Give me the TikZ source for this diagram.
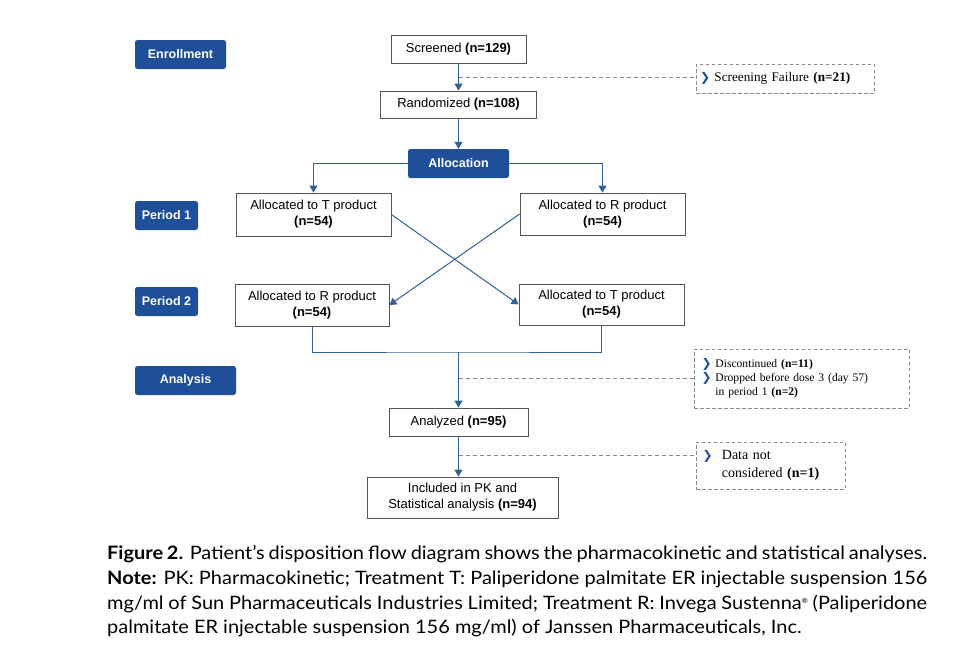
\documentclass[tikz,border=0pt]{standalone}
\usepackage{fontspec}
\setmainfont{Liberation Sans}
\newfontfamily\serifside{Liberation Serif}
\newfontfamily\symfont{DejaVu Sans}
\newfontfamily\capfont[FakeStretch=1.08]{Lato}
\usetikzlibrary{arrows.meta}
\definecolor{navy}{HTML}{1F4F98}
\definecolor{lineblue}{HTML}{34609A}
\definecolor{boxgray}{HTML}{555555}
\definecolor{dashgray}{HTML}{8A8A8A}
\newcommand{\chev}{{\symfont\bfseries\color{navy}\fontsize{12}{12}\selectfont\raisebox{-0.3pt}{❯}}}
\newcommand{\capline}[1]{\makebox[820pt][s]{#1}}
\tikzset{
  label box/.style={draw=none, fill=navy, rounded corners=2.5pt, text=white, font=\fontsize{12.5}{14}\selectfont\bfseries, inner sep=0pt, align=center},
  flowbox/.style={draw=boxgray, line width=0.8pt, fill=white, font=\fontsize{13}{16}\selectfont, inner sep=0pt, align=center},
  sidebox/.style={draw=dashgray, dashed, dash pattern=on 3.5pt off 2.5pt, line width=0.7pt, inner sep=0pt, font=\serifside\fontsize{12.5}{14}\selectfont},
  conn/.style={draw=lineblue, line width=1pt},
  arr/.style={conn, -{Triangle[width=8pt,length=7pt]}},
  dashconn/.style={draw=dashgray, line width=0.8pt, dash pattern=on 4pt off 3pt},
  captext/.style={anchor=base west, inner sep=0pt, font=\capfont\fontsize{18.5}{22}\selectfont, text=black}
}
\begin{document}
\begin{tikzpicture}[x=1pt,y=-1pt]
\useasboundingbox (0,0) rectangle (976,656);
\fill[white] (0,0) rectangle (976,656);
% stage labels
\node[label box, minimum width=91pt, minimum height=29pt] (enroll) at (180.5,54.5) {Enrollment};
\node[label box, minimum width=63pt, minimum height=29pt] (p1) at (166.5,215.5) {Period 1};
\node[label box, minimum width=63pt, minimum height=29pt] (p2) at (166.5,301.5) {Period 2};
\node[label box, minimum width=101pt, minimum height=29pt] (analysis) at (185.5,380.5) {Analysis};
% flow boxes
\node[flowbox, minimum width=135pt, minimum height=28pt] (screened) at (458.5,49) {Screened \textbf{(n=129)}};
\node[flowbox, minimum width=156pt, minimum height=27pt] (rand) at (458.5,104.5) {Randomized \textbf{(n=108)}};
\node[label box, minimum width=101pt, minimum height=29pt] (alloc) at (458.5,163.5) {Allocation};
\node[flowbox, minimum width=155pt, minimum height=43pt] (tA) at (313.5,214.5) {Allocated to T product\\\textbf{(n=54)}};
\node[flowbox, minimum width=165pt, minimum height=42pt] (rA) at (602.5,214) {Allocated to R product\\\textbf{(n=54)}};
\node[flowbox, minimum width=154pt, minimum height=42pt] (tB) at (312,305) {Allocated to R product\\\textbf{(n=54)}};
\node[flowbox, minimum width=165pt, minimum height=41pt] (rB) at (601.5,304.5) {Allocated to T product\\\textbf{(n=54)}};
\node[flowbox, minimum width=139pt, minimum height=28pt] (analyzed) at (458.5,422) {Analyzed \textbf{(n=95)}};
\node[flowbox, minimum width=191pt, minimum height=41pt] (incl) at (462.5,497.5) {Included in PK and\\Statistical analysis \textbf{(n=94)}};
% side boxes
\node[sidebox, minimum width=178pt, minimum height=29pt, text width=170pt, align=left, font=\serifside\fontsize{13.2}{15}\selectfont] (fail) at (785,78.5) {\chev\ Screening Failure \textbf{(n=21)}};
\node[sidebox, minimum width=215pt, minimum height=59pt, text width=200pt, align=left, font=\serifside\fontsize{11.6}{14}\selectfont] (disc) at (801.5,378.5) {\chev\ Discontinued \textbf{(n=11)}\\\chev\ Dropped before dose 3 (day 57)\\\phantom{\chev\ }in period 1 \textbf{(n=2)}};
\node[sidebox, minimum width=149pt, minimum height=47pt, text width=136pt, align=left, font=\serifside\fontsize{14}{18}\selectfont] (data) at (770.5,465.5) {\chev\ \ Data not\\\phantom{\chev\ \ }considered \textbf{(n=1)}};
% connectors
\coordinate (j1) at (458.5,77);
\coordinate (m1) at (458.5,352);
\coordinate (j2) at (458.5,378);
\coordinate (j3) at (458.5,455);
\draw[arr] (screened.south) -- (rand.north);
\draw[dashconn] (j1) -- (j1 -| fail.west);
\draw[arr] (rand.south) -- (alloc.north);
\draw[arr] (alloc.west) -| (tA.north);
\draw[arr] (alloc.east) -| (rA.north);
\draw[arr] (tA.east) -- (rB.west);
\draw[arr] (rA.west) -- (tB.east);
\draw[conn] (tB.south) |- (m1) -| (rB.south);
\draw[arr] (m1) -- (analyzed.north);
\draw[dashconn] (j2) -- (j2 -| disc.west);
\draw[arr] (analyzed.south) -- (analyzed.south |- incl.north);
\draw[dashconn] (j3) -- (j3 -| data.west);
% caption
\node[captext] (c1) at (107,559) {\capline{\textbf{Figure 2.} Patient’s disposition flow diagram shows the pharmacokinetic and statistical analyses.}};
\node[captext] (c2) at (107,584) {\capline{\textbf{Note:} PK: Pharmacokinetic; Treatment T: Paliperidone palmitate ER injectable suspension 156}};
\node[captext] (c3) at (107,609) {\capline{mg/ml of Sun Pharmaceuticals Industries Limited; Treatment R: Invega Sustenna\raisebox{6pt}{\fontsize{7}{7}\selectfont ®} (Paliperidone}};
\node[captext] (c4) at (107,633) {palmitate ER injectable suspension 156 mg/ml) of Janssen Pharmaceuticals, Inc.};
\end{tikzpicture}
\end{document}
